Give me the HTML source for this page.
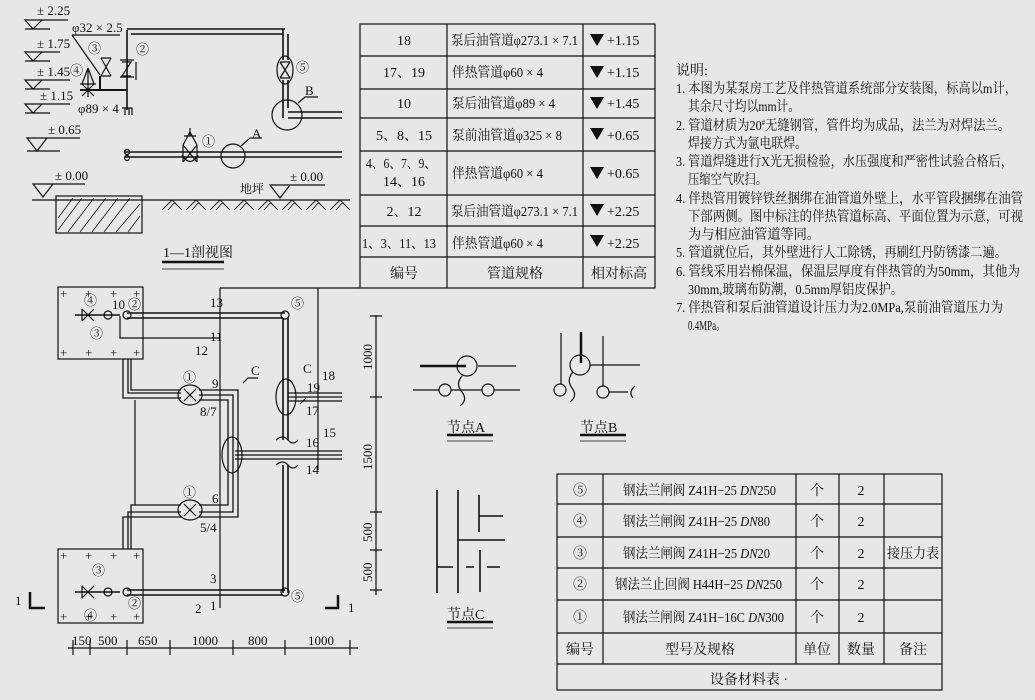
<!DOCTYPE html>
<html><head><meta charset="utf-8"><style>
html,body{margin:0;padding:0;background:#e7e7e7}
svg{display:block}
text{font-family:"Liberation Serif","Noto Serif CJK SC",serif;fill:#111}
</style></head><body>
<svg width="1035" height="700" viewBox="0 0 1035 700" xmlns="http://www.w3.org/2000/svg">
<rect width="1035" height="700" fill="#e7e7e7"/>
<g stroke="#111" fill="none" stroke-width="1.2">
<path d="M25,20H68 M25,20L42,20L33,29Z M25,29H50"/>
<path d="M25,52H60 M25,52L42,52L33,61Z M25,61H50"/>
<path d="M25,80H70 M25,80L42,80L33,89Z M25,89H50"/>
<path d="M25,104H70 M25,104L42,104L33,113Z M25,113H50"/>
<path d="M27,138H80 M27,138L47,138L37,151Z M27,151H60"/>
<path d="M33,184H85 M33,184L53,184L43,197Z"/>
<path d="M32,200H350"/>
<rect x="56" y="196" width="86" height="37"/>
<path d="M58,230L82,198 M68,232L94,198 M80,232L106,198 M92,232L118,198 M104,232L130,198 M116,232L140,204 M128,232L140,216 M58,218L73,198" stroke-width="0.8"/>
<path d="M162,210L172,200L182,210 M168,210L175,202 M186,210L196,200L206,210 M192,210L199,202 M210,210L220,200L230,210 M216,210L223,202 M234,210L244,200L254,210 M240,210L247,202 M258,210L268,200L278,210 M264,210L271,202 M282,210L292,200L302,210 M288,210L295,202 M306,210L316,200L326,210 M312,210L319,202 M330,210L340,200L350,210 M336,210L343,202" stroke-width="0.9"/>
<path d="M270,185H325 M270,185L290,185L280,198Z"/>
<path d="M127,30V110 M127,29H285 M131,34H283 M283,29V60 M288,34V60 M283,80V118 M288,80V108" stroke-width="1.6"/>
<ellipse cx="285" cy="70" rx="8" ry="14"/>
<path d="M280,62L290,78 M290,62L280,78 M280,62H290 M280,78H290"/>
<circle cx="287" cy="115" r="15"/>
<path d="M288,112H342 M288,118H342" stroke-width="1.6"/>
<path d="M298,103L305,97H318"/>
<path d="M72,35H120 M72,35L100,75"/>
<path d="M80,90H127 M100,90V76" stroke-width="2"/>
<path d="M101,58H111 M101,76H111 M101,58L111,76 M111,58L101,76"/>
<path d="M120,60H134 M120,77H134 M122,62L131,62L122,76L131,76 M136,62V80"/>
<path d="M88,68V97 M80,84H96 M82,84L94,96 M94,84L82,96 M88,68L82,84 M88,68L94,84"/>
<path d="M122,108H132V115 M125,108V115 M129,108V115"/>
<path d="M125,152H342 M125,157H342" stroke-width="1.6"/>
<path d="M183,145V162 M197,145V162 M183,145L197,162 M197,145L183,162 M183,145L190,132L197,145 M184,136H196 M190,128V136 M182,155Q190,168 198,155"/>
<circle cx="233" cy="156" r="12"/>
<path d="M241,146L250,138H262"/>
<circle cx="127" cy="152" r="2.5"/><circle cx="127" cy="158" r="2.5"/>
<path d="M162,262H224" stroke-width="2.5"/><path d="M162,269H224" stroke-width="0.8"/>
<rect x="58" y="287" width="85" height="72"/>
<rect x="58" y="549" width="85" height="74"/>
<path d="M120,316V338H219"/>
<path d="M220,288V608 M220,288H360 M318,288V470"/>
<path d="M127,313H285 M127,318H283 M283,318V440 M288,318V440 M283,465V593 M288,465V593 M127,590H285 M127,595H283" stroke-width="1.6"/>
<path d="M276,440Q283,434 288,440Q293,446 298,440 M276,465Q283,459 288,465Q293,471 298,465"/>
<circle cx="285" cy="315" r="4"/><circle cx="285" cy="592" r="4"/>
<circle cx="127" cy="315" r="4"/><circle cx="127" cy="592" r="4"/>
<circle cx="108" cy="315" r="4"/><circle cx="108" cy="592" r="4"/>
<path d="M75,315H120 M75,592H120" stroke-width="1.6"/>
<path d="M82,309V321 M82,309L94,321 M94,309L82,321 M82,586V598 M82,586L94,598 M94,586L82,598"/>
<path d="M123,359V398H181 M128,359V393H181 M131,359V390H181 M199,390H238V517H199 M199,395H233V512H199 M199,400H228V505H199 M181,505H131V549 M181,512H128V549 M181,517H123V549" stroke-width="1.3"/>
<ellipse cx="190" cy="395" rx="12" ry="10"/><ellipse cx="190" cy="510" rx="12" ry="10"/>
<path d="M184,389L196,401 M196,389L184,401 M184,504L196,516 M196,504L184,516"/>
<path d="M135,400V505"/>
<ellipse cx="232" cy="455" rx="10" ry="18"/><ellipse cx="286" cy="397" rx="10" ry="18"/>
<path d="M235,451H342 M235,455H342 M235,459H342 M288,393H342 M288,397H342 M288,401H342" stroke-width="1.3"/>
<path d="M376,315V595 M370,316H382 M370,397H382 M370,512H382 M370,550H382 M370,590H382"/>
<path d="M68,648H358 M73,640V655 M90,640V655 M127,640V655 M170,640V655 M233,640V655 M285,640V655 M350,640V655"/>
<path d="M30,592V608H45 M325,608H338V595" stroke-width="2.5"/>
<path d="M243,383L248,378H258 M300,404L306,398"/>
<circle cx="467" cy="366" r="10"/>
<path d="M420,366H466" stroke-width="2.5"/><path d="M478,366H516 M413,390H439 M451,390H482 M494,390H520"/>
<circle cx="445" cy="390" r="6"/><circle cx="488" cy="390" r="6"/>
<path d="M462,376Q455,384 462,392Q468,400 460,406"/>
<path d="M447,435H493" stroke-width="2.5"/><path d="M447,441H493" stroke-width="0.8"/>
<circle cx="580" cy="365" r="10"/>
<path d="M561,333V384 M603,336V355 M590,365H640 M609,392H628 M603,355V386"/>
<path d="M581,332V363" stroke-width="2.5"/>
<circle cx="560" cy="390" r="6"/><circle cx="603" cy="392" r="6"/>
<path d="M573,372Q566,380 572,388Q578,396 570,402 M635,386Q628,392 633,398"/>
<path d="M580,435H626" stroke-width="2.5"/><path d="M580,441H626" stroke-width="0.8"/>
<path d="M437,490V593 M458,490V593 M479,495V532 M479,516H503 M458,540H505 M480,550V592 M437,567H453 M466,567H474 M487,567H500" stroke-width="1.6"/>
<path d="M447,622H493" stroke-width="2.5"/><path d="M447,628H493" stroke-width="0.8"/>
<rect x="360" y="24" width="295" height="264"/>
<path d="M447,24V288 M583,24V288 M360,56H655 M360,89H655 M360,118H655 M360,151H655 M360,195H655 M360,226H655 M360,257H655"/>
<rect x="557" y="474" width="385" height="216"/>
<path d="M603,474V664 M796,474V664 M839,474V664 M884,474V664 M557,504H942 M557,537H942 M557,568H942 M557,600H942 M557,633H942 M557,664H942"/>
</g>
<g fill="#111">
<path d="M590,34L604,34L597,46Z M590,66L604,66L597,78Z M590,97L604,97L597,109Z M590,128L604,128L597,140Z M590,167L604,167L597,179Z M590,204L604,204L597,216Z M590,235L604,235L597,247Z"/>
</g>
<g font-size="13">
<text x="37" y="15">± 2.25</text><text x="37" y="48">± 1.75</text><text x="37" y="76">± 1.45</text><text x="40" y="100">± 1.15</text>
<text x="48" y="134">± 0.65</text><text x="55" y="180">± 0.00</text><text x="290" y="181">± 0.00</text>
<text x="240" y="193" font-size="12">地坪</text>
<text x="72" y="32">φ32 × 2.5</text><text x="78" y="113">φ89 × 4</text>
<text x="88" y="53">③</text><text x="136" y="54">②</text><text x="70" y="75">④</text>
<text x="296" y="72">⑤</text><text x="305" y="95">B</text><text x="202" y="146">①</text><text x="252" y="138">A</text>
<text x="163" y="257" font-size="14">1—1剖视图</text>
<text x="84" y="305">④</text><text x="112" y="309">10</text><text x="128" y="309">②</text><text x="90" y="338">③</text>
<text x="210" y="307">13</text><text x="210" y="341">11</text><text x="195" y="355">12</text>
<text x="291" y="308">⑤</text><text x="183" y="382">①</text><text x="212" y="388">9</text><text x="200" y="416">8/7</text>
<text x="251" y="375">C</text><text x="303" y="373">C</text><text x="307" y="392">19</text><text x="322" y="380">18</text><text x="306" y="415">17</text>
<text x="306" y="447">16</text><text x="323" y="437">15</text><text x="306" y="474">14</text>
<text x="183" y="497">①</text><text x="212" y="503">6</text><text x="200" y="532">5/4</text>
<text x="92" y="575">③</text><text x="84" y="620">④</text><text x="128" y="608">②</text>
<text x="210" y="583">3</text><text x="210" y="610">1</text><text x="195" y="613">2</text><text x="291" y="601">⑤</text>
<text x="15" y="605">1</text><text x="348" y="612">1</text>
<text x="72" y="645">150</text><text x="98" y="645">500</text><text x="138" y="645">650</text><text x="192" y="645">1000</text><text x="248" y="645">800</text><text x="308" y="645">1000</text>
<text transform="translate(372,370) rotate(-90)">1000</text><text transform="translate(372,470) rotate(-90)">1500</text>
<text transform="translate(372,542) rotate(-90)">500</text><text transform="translate(372,582) rotate(-90)">500</text>
<text x="447" y="432" font-size="14">节点A</text><text x="580" y="432" font-size="14">节点B</text><text x="447" y="619" font-size="14">节点C</text>
</g>
<g font-size="14">
<text x="404" y="45" text-anchor="middle">18</text>
<text x="404" y="77" text-anchor="middle">17、19</text>
<text x="404" y="108" text-anchor="middle">10</text>
<text x="404" y="140" text-anchor="middle">5、8、15</text>
<text x="366" y="168" textLength="70" lengthAdjust="spacingAndGlyphs">4、6、7、9、</text>
<text x="404" y="186" text-anchor="middle">14、16</text>
<text x="404" y="216" text-anchor="middle">2、12</text>
<text x="362" y="248" textLength="74" lengthAdjust="spacingAndGlyphs">1、3、11、13</text>
<text x="404" y="278" text-anchor="middle">编号</text>
<text x="451" y="45" textLength="127" lengthAdjust="spacingAndGlyphs">泵后油管道φ273.1 × 7.1</text>
<text x="452" y="77" textLength="91" lengthAdjust="spacingAndGlyphs">伴热管道φ60 × 4</text>
<text x="452" y="108" textLength="103" lengthAdjust="spacingAndGlyphs">泵后油管道φ89 × 4</text>
<text x="452" y="140" textLength="110" lengthAdjust="spacingAndGlyphs">泵前油管道φ325 × 8</text>
<text x="452" y="178" textLength="91" lengthAdjust="spacingAndGlyphs">伴热管道φ60 × 4</text>
<text x="451" y="216" textLength="127" lengthAdjust="spacingAndGlyphs">泵后油管道φ273.1 × 7.1</text>
<text x="452" y="248" textLength="91" lengthAdjust="spacingAndGlyphs">伴热管道φ60 × 4</text>
<text x="515" y="278" text-anchor="middle">管道规格</text>
<text x="607" y="45">+1.15</text><text x="607" y="77">+1.15</text><text x="607" y="108">+1.45</text><text x="607" y="140">+0.65</text>
<text x="607" y="178">+0.65</text><text x="607" y="216">+2.25</text><text x="607" y="248">+2.25</text>
<text x="619" y="278" text-anchor="middle">相对标高</text>
</g>
<g font-size="14">
<text x="580" y="495" text-anchor="middle">⑤</text><text x="580" y="526" text-anchor="middle">④</text><text x="580" y="558" text-anchor="middle">③</text><text x="580" y="589" text-anchor="middle">②</text><text x="580" y="622" text-anchor="middle">①</text>
<text x="580" y="654" text-anchor="middle">编号</text>
<text x="623" y="495" textLength="153" lengthAdjust="spacingAndGlyphs">钢法兰闸阀 Z41H−25 <tspan font-style="italic">DN</tspan>250</text>
<text x="623" y="526" textLength="147" lengthAdjust="spacingAndGlyphs">钢法兰闸阀 Z41H−25 <tspan font-style="italic">DN</tspan>80</text>
<text x="623" y="558" textLength="147" lengthAdjust="spacingAndGlyphs">钢法兰闸阀 Z41H−25 <tspan font-style="italic">DN</tspan>20</text>
<text x="615" y="589" textLength="167" lengthAdjust="spacingAndGlyphs">钢法兰止回阀 H44H−25 <tspan font-style="italic">DN</tspan>250</text>
<text x="623" y="622" textLength="161" lengthAdjust="spacingAndGlyphs">钢法兰闸阀 Z41H−16C <tspan font-style="italic">DN</tspan>300</text>
<text x="700" y="654" text-anchor="middle">型号及规格</text>
<text x="817" y="495" text-anchor="middle">个</text><text x="817" y="526" text-anchor="middle">个</text><text x="817" y="558" text-anchor="middle">个</text><text x="817" y="589" text-anchor="middle">个</text><text x="817" y="622" text-anchor="middle">个</text>
<text x="817" y="654" text-anchor="middle">单位</text>
<text x="861" y="495" text-anchor="middle">2</text><text x="861" y="526" text-anchor="middle">2</text><text x="861" y="558" text-anchor="middle">2</text><text x="861" y="589" text-anchor="middle">2</text><text x="861" y="622" text-anchor="middle">2</text>
<text x="861" y="654" text-anchor="middle">数量</text>
<text x="887" y="558" textLength="52" lengthAdjust="spacingAndGlyphs">接压力表</text><text x="913" y="654" text-anchor="middle">备注</text>
<text x="749" y="684" text-anchor="middle">设备材料表   ·</text>
</g>
<g font-size="14">
<text x="676" y="75">说明:</text>
<text x="676" y="93" textLength="341" lengthAdjust="spacingAndGlyphs">1. 本图为某泵房工艺及伴热管道系统部分安装图，标高以m计，</text>
<text x="688" y="111" textLength="112" lengthAdjust="spacingAndGlyphs">其余尺寸均以mm计。</text>
<text x="676" y="130" textLength="334" lengthAdjust="spacingAndGlyphs">2. 管道材质为20<tspan font-size="8" dy="-5">#</tspan><tspan dy="5">无缝钢管，管件均为成品，法兰为对焊法兰。</tspan></text>
<text x="688" y="148" textLength="119" lengthAdjust="spacingAndGlyphs">焊接方式为氩电联焊。</text>
<text x="676" y="166" textLength="337" lengthAdjust="spacingAndGlyphs">3. 管道焊缝进行X光无损检验，水压强度和严密性试验合格后，</text>
<text x="688" y="184" textLength="79" lengthAdjust="spacingAndGlyphs">压缩空气吹扫。</text>
<text x="676" y="203" textLength="347" lengthAdjust="spacingAndGlyphs">4. 伴热管用镀锌铁丝捆绑在油管道外壁上，水平管段捆绑在油管</text>
<text x="688" y="221" textLength="335" lengthAdjust="spacingAndGlyphs">下部两侧。图中标注的伴热管道标高、平面位置为示意，可视</text>
<text x="688" y="239" textLength="132" lengthAdjust="spacingAndGlyphs">为与相应油管道等同。</text>
<text x="676" y="257" textLength="331" lengthAdjust="spacingAndGlyphs">5. 管道就位后，其外壁进行人工除锈，再刷红丹防锈漆二遍。</text>
<text x="676" y="276" textLength="344" lengthAdjust="spacingAndGlyphs">6. 管线采用岩棉保温，保温层厚度有伴热管的为50mm，其他为</text>
<text x="688" y="294" textLength="215" lengthAdjust="spacingAndGlyphs">30mm,玻璃布防潮，0.5mm厚铝皮保护。</text>
<text x="676" y="312" textLength="327" lengthAdjust="spacingAndGlyphs">7. 伴热管和泵后油管道设计压力为2.0MPa,泵前油管道压力为</text>
<text x="688" y="330" textLength="37" lengthAdjust="spacingAndGlyphs">0.4MPa。</text>
</g>
<g font-size="13" fill="#111">
<text x="60" y="298">+</text><text x="85" y="298">+</text><text x="110" y="298">+</text><text x="133" y="298">+</text>
<text x="60" y="357">+</text><text x="85" y="357">+</text><text x="110" y="357">+</text><text x="133" y="357">+</text>
<text x="60" y="560">+</text><text x="85" y="560">+</text><text x="110" y="560">+</text><text x="133" y="560">+</text>
<text x="60" y="621">+</text><text x="85" y="621">+</text><text x="110" y="621">+</text><text x="133" y="621">+</text>
</g>
</svg>
</body></html>
